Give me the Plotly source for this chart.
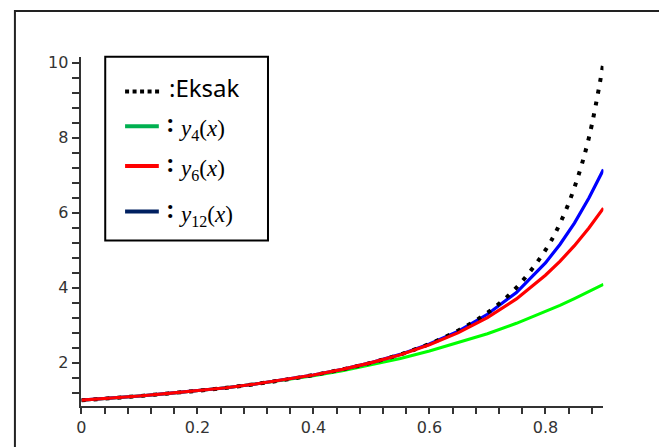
import plotly.graph_objects as go

W, H = 659, 447

# ---- data ----
x_vals = [0.0, 0.05, 0.1, 0.15, 0.2, 0.25, 0.3, 0.35, 0.4, 0.45, 0.5, 0.55,
          0.6, 0.65, 0.7, 0.75, 0.8, 0.825, 0.85, 0.875, 0.9]
y_exact = [1.00, 1.05, 1.11, 1.18, 1.25, 1.33, 1.43, 1.54, 1.67, 1.82, 2.00, 2.22,
           2.50, 2.86, 3.33, 4.00, 5.00, 5.71, 6.67, 8.00, 10.00]
y_4 = [1.00, 1.05, 1.11, 1.18, 1.25, 1.33, 1.43, 1.53, 1.65, 1.78, 1.94, 2.11,
       2.31, 2.53, 2.77, 3.05, 3.36, 3.53, 3.71, 3.90, 4.09]
y_6 = [1.00, 1.05, 1.11, 1.18, 1.25, 1.33, 1.43, 1.54, 1.67, 1.82, 2.00, 2.21,
       2.48, 2.80, 3.20, 3.70, 4.33, 4.70, 5.12, 5.59, 6.12]
y_12 = [1.00, 1.05, 1.11, 1.18, 1.25, 1.33, 1.43, 1.54, 1.67, 1.82, 2.00, 2.22,
        2.50, 2.84, 3.29, 3.87, 4.66, 5.15, 5.72, 6.39, 7.15]

legend_labels = [":Eksak", "<i>y</i><sub>4</sub>(<i>x</i>)",
                 "<i>y</i><sub>6</sub>(<i>x</i>)", "<i>y</i><sub>12</sub>(<i>x</i>)"]
x_ticks = [0, 0.2, 0.4, 0.6, 0.8]
y_ticks = [2, 4, 6, 8, 10]


def px(x):
    return x / W


def py(y):
    return 1 - y / H


fig = go.Figure()
fig.add_trace(go.Scatter(x=x_vals, y=y_4, mode="lines",
                         line=dict(color="#00ff00", width=3), showlegend=False))
fig.add_trace(go.Scatter(x=x_vals, y=y_12, mode="lines",
                         line=dict(color="#0000ff", width=3.2), showlegend=False))
fig.add_trace(go.Scatter(x=x_vals, y=y_exact, mode="lines",
                         line=dict(color="#000000", width=4, dash="4px,8px", shape="spline"),
                         showlegend=False))
fig.add_trace(go.Scatter(x=x_vals, y=y_6, mode="lines",
                         line=dict(color="#ff0000", width=3.2), showlegend=False))

axis_font = dict(family="DejaVu Sans", size=16, color="#333333")

fig.update_layout(
    width=W, height=H,
    margin=dict(l=0, r=0, t=0, b=0),
    paper_bgcolor="white", plot_bgcolor="white",
    xaxis=dict(domain=[px(77), px(603)], range=[0, 0.9], tickvals=x_ticks,
               ticktext=[str(v) for v in x_ticks],
               showgrid=False, zeroline=False, showline=True,
               linecolor="#333333", linewidth=1.5,
               ticks="outside", ticklen=6, tickwidth=1.5, tickcolor="#333333",
               tickfont=axis_font,
               minor=dict(dtick=0.04, tick0=0, ticks="outside", ticklen=6,
                          tickwidth=1.5, tickcolor="#333333", showgrid=False),
               anchor="y", fixedrange=True),
    yaxis=dict(domain=[py(405.5), py(54)], range=[0.85, 10.16], tickvals=y_ticks,
               showgrid=False, zeroline=False, showline=True,
               linecolor="#333333", linewidth=1.5,
               ticks="outside", ticklen=8, tickwidth=1.5, tickcolor="#333333",
               tickfont=axis_font,
               minor=dict(dtick=0.4, tick0=0, ticks="outside", ticklen=8,
                          tickwidth=1.5, tickcolor="#333333", showgrid=False),
               anchor="x", fixedrange=True),
)

shapes = []
# outer frame (only left and top edges visible)
shapes.append(dict(type="rect", xref="paper", yref="paper",
                   x0=px(10), x1=1.2, y0=-0.2, y1=py(8),
                   line=dict(color="#222222", width=2)))
# legend box
shapes.append(dict(type="rect", xref="paper", yref="paper",
                   x0=px(101), x1=px(265), y0=py(239), y1=py(54),
                   line=dict(color="#000000", width=2), fillcolor="white"))
# legend samples
shapes.append(dict(type="line", xref="paper", yref="paper",
                   x0=px(121), x1=px(158), y0=py(89), y1=py(89),
                   line=dict(color="#000000", width=4, dash="4px,3.5px")))
for yy, col in [(124, "#00b050"), (164, "#ff0000"), (210, "#002060")]:
    shapes.append(dict(type="line", xref="paper", yref="paper",
                       x0=px(121), x1=px(155), y0=py(yy), y1=py(yy),
                       line=dict(color=col, width=4)))
fig.update_layout(shapes=shapes)

ann = []
ann.append(dict(xref="paper", yref="paper", x=px(163), y=py(85), xanchor="left",
                yanchor="middle", showarrow=False, text=legend_labels[0],
                font=dict(family="Noto Sans", size=24, color="#000000")))
for yy, lab in [(124, legend_labels[1]), (164, legend_labels[2]), (210, legend_labels[3])]:
    ann.append(dict(xref="paper", yref="paper", x=px(161), y=py(yy - 3), xanchor="left",
                    yanchor="middle", showarrow=False, text="<b>:</b>",
                    font=dict(family="Noto Sans", size=23, color="#000000")))
    ann.append(dict(xref="paper", yref="paper", x=px(173), y=py(yy + 4), xanchor="left",
                    yanchor="middle", showarrow=False, text=lab,
                    font=dict(family="Liberation Serif", size=23, color="#000000")))
# cut-off x-axis title at the bottom edge
ann.append(dict(xref="paper", yref="paper", x=px(340), y=py(443), xanchor="center",
                yanchor="top", showarrow=False, text="x",
                font=dict(family="DejaVu Sans", size=16, color="#333333")))
fig.update_layout(annotations=ann)

fig.write_html("out.html", config={"displayModeBar": False},
               post_script="document.body.style.margin='0';document.body.style.overflow='hidden';")
